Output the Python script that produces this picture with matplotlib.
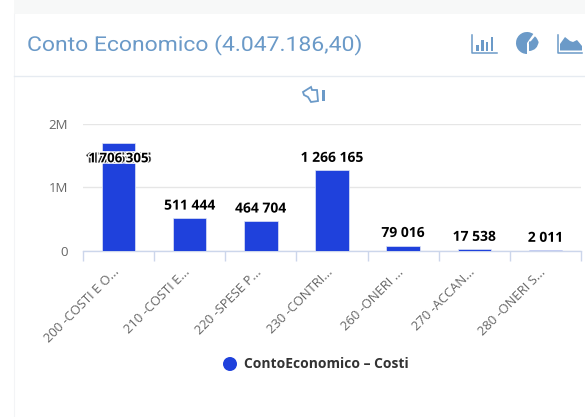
import matplotlib
matplotlib.use('Agg')
import matplotlib.pyplot as plt
import matplotlib.patheffects as pe
from matplotlib.patches import Rectangle, Circle, Wedge, Polygon
from matplotlib.transforms import Affine2D

categorie = ['200 -COSTI E O...', '210 -COSTI E...', '220 -SPESE P...', '230 -CONTRI...',
             '260 -ONERI ...', '270 -ACCAN...', '280 -ONERI S...']
valori = [1706305, 511444, 464704, 1266165, 79016, 17538, 2011]
etichette = ['1 706 305', '511 444', '464 704', '1 266 165', '79 016', '17 538', '2 011']
tick_y = [0, 1000000, 2000000]
tick_y_label = ['0', '1M', '2M']

W, H = 585, 417
BLU = '#1f41dc'
AZZURRO = '#6b9ac8'


# allarga il testo in orizzontale (il titolo originale ha lettere spaziate)
class Allarga(pe.AbstractPathEffect):
    def __init__(self, fattore, x0):
        super().__init__()
        self.fattore = fattore
        self.x0 = x0

    def draw_path(self, renderer, gc, tpath, affine, rgbFace=None):
        t = affine + Affine2D().translate(-self.x0, 0).scale(self.fattore, 1).translate(self.x0, 0)
        renderer.draw_path(gc, tpath, t, rgbFace)


fig = plt.figure(figsize=(W / 100, H / 100), dpi=100, facecolor='white')

# sfondo e icone in coordinate pixel
bg = fig.add_axes([0, 0, 1, 1], zorder=0)
bg.set_xlim(0, W)
bg.set_ylim(H, 0)
bg.axis('off')
bg.add_patch(Rectangle((14, 0), W - 14, 14, color='#f7f8f8', lw=0))
bg.plot([14, 14], [14, H], color='#f3f4f6', lw=0.8)
bg.plot([14, W], [76, 76], color='#e6ebf1', lw=1)

bg.text(27, 45, 'Conto Economico (4.047.186,40)', family='Roboto', fontsize=14.6,
        color=AZZURRO, va='center', ha='left', path_effects=[Allarga(1.13, 27)])

# icona barre
bg.plot([472, 472, 497], [35, 52.5, 52.5], color=AZZURRO, lw=1.1)
for x, y in zip([476, 481, 485.5, 490.5], [45, 40, 42, 37]):
    bg.add_patch(Rectangle((x, y), 2.6, 50.7 - y, color=AZZURRO, lw=0))
# icona torta
bg.add_patch(Wedge((527, 43), 11, 90, 305, color=AZZURRO, lw=0))
bg.add_patch(Wedge((529, 41.5), 9.5, 0, 90, color=AZZURRO, lw=0))
bg.add_patch(Wedge((528.5, 44), 10, -50, -8, color=AZZURRO, lw=0))
# icona area
bg.plot([558, 558, 582], [35, 52.5, 52.5], color=AZZURRO, lw=1.1)
bg.add_patch(Polygon([(560, 50.5), (560, 44), (565, 37), (570, 41), (573, 42), (577, 40), (582, 46), (582, 50.5)],
                     color=AZZURRO, lw=0))
# icona mano
bg.add_patch(Polygon([(303, 92), (311, 87), (312, 90), (317, 90), (318, 101), (311, 102), (308, 97), (304, 95)],
                     fill=False, edgecolor=AZZURRO, lw=1.3))
bg.add_patch(Rectangle((321.5, 90), 3.2, 11, color=AZZURRO, lw=0))

# grafico
x0, x1 = 83, 581
y_base, y_top = 250.5, 124
ax = fig.add_axes([x0 / W, 1 - y_base / H, (x1 - x0) / W, (y_base - y_top) / H], zorder=1)
ax.patch.set_alpha(0)
pos = list(range(len(valori)))
ax.bar(pos, valori, width=0.47, color=BLU, edgecolor='#dfe5f5', linewidth=0.5, zorder=3)
ax.set_xlim(-0.5, len(valori) - 0.5)
ax.set_ylim(0, 2000000)
ax.set_yticks(tick_y)
ax.set_yticklabels(tick_y_label, family='Open Sans', fontsize=9.5, color='#666666')
ax.grid(axis='y', color='#e6e6e6', lw=1)
ax.set_axisbelow(True)
for s in ['top', 'right', 'left']:
    ax.spines[s].set_visible(False)
ax.spines['bottom'].set_color('#ccd6eb')
ax.spines['bottom'].set_linewidth(1)
ax.tick_params(axis='y', length=0, pad=11)
ax.set_xticks([p - 0.5 for p in pos] + [len(pos) - 0.5])
ax.set_xticklabels([])
ax.tick_params(axis='x', length=7.5, color='#ccd6eb', width=1)

# etichette categorie ruotate
for p, c in zip(pos, categorie):
    ax.annotate(c, (p, 0), xytext=(-6, -15), textcoords='offset pixels', rotation=45,
                rotation_mode='anchor', ha='right', va='top', family='Open Sans',
                fontsize=9.4, color='#666666')

# etichette valori
alone = [pe.withStroke(linewidth=2, foreground='white')]
for p, v, e in zip(pos, valori, etichette):
    if p == 0:
        continue
    ax.annotate(e, (p, v), xytext=(0, 4), textcoords='offset points', ha='center', va='bottom',
                family='Open Sans', fontweight='bold', fontsize=10, color='black',
                path_effects=alone, zorder=5)

# la prima etichetta e' sovrapposta a se stessa nell'originale
doppia = [pe.Stroke(linewidth=2, foreground='white', offset=(-2, 0)),
          pe.Stroke(linewidth=0.5, foreground='#666666', offset=(-2, 0)),
          pe.Stroke(linewidth=2, foreground='white', offset=(2, 0)),
          pe.Stroke(linewidth=0.5, foreground='#666666', offset=(2, 0)),
          pe.withStroke(linewidth=2, foreground='white')]
ax.annotate(etichette[0], (0, valori[0]), xytext=(0, -7), textcoords='offset points',
            ha='center', va='top', family='Open Sans', fontweight='bold', fontsize=9.6,
            color='black', path_effects=doppia, zorder=5)

# legenda
bg.add_patch(Circle((230, 364), 7, color=BLU, lw=0))
bg.text(244, 364, 'ContoEconomico – Costi', family='Open Sans', fontweight='bold', fontsize=10,
        color='#333333', va='center', ha='left')

fig.savefig('out.png', dpi=100)
